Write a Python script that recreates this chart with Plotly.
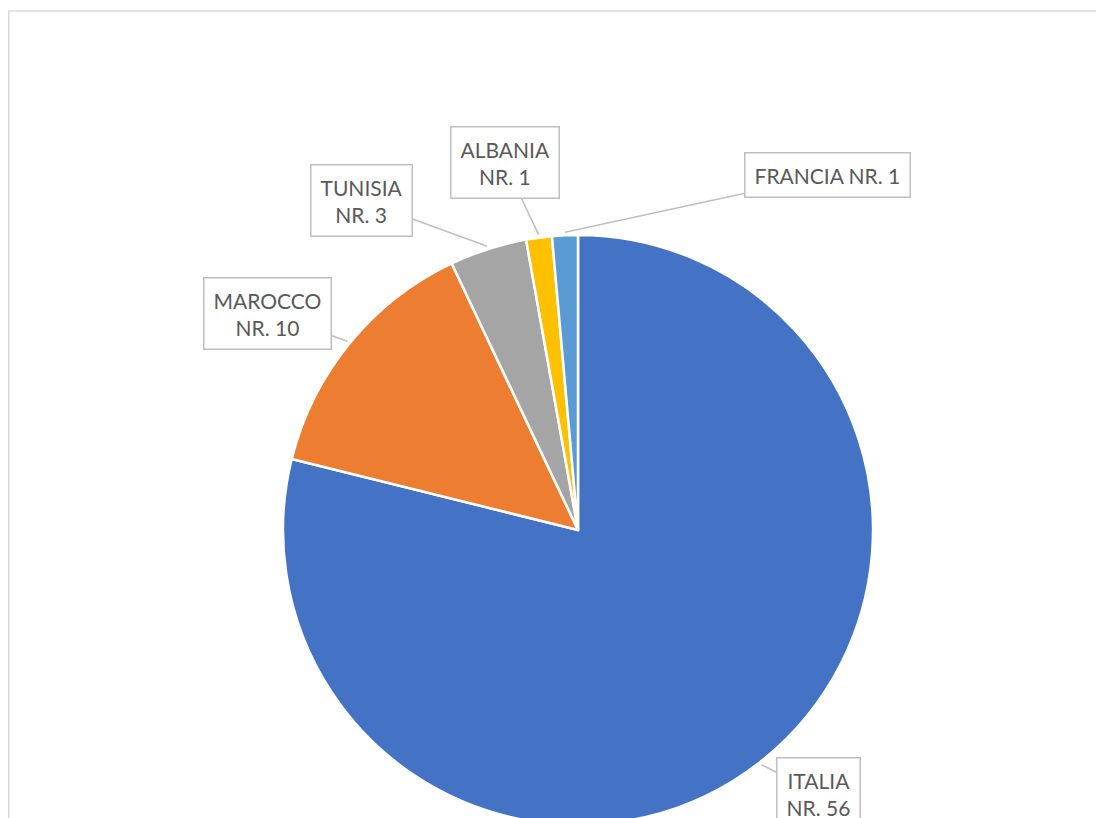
import math

import plotly.graph_objects as go

# Dati: nazionalita (numero di persone)
paesi = ["ITALIA", "MAROCCO", "TUNISIA", "ALBANIA", "FRANCIA"]
numeri = [56, 10, 3, 1, 1]
etichette = ["ITALIA<br>NR. 56", "MAROCCO<br>NR. 10", "TUNISIA<br>NR. 3",
             "ALBANIA<br>NR. 1", "FRANCIA NR. 1"]
colori = ["#4472C4", "#ED7D31", "#A5A5A5", "#FFC000", "#5B9BD5"]

# la figura e piu alta della finestra: il fondo della torta resta tagliato
LARGHEZZA, ALTEZZA = 1104, 850
RAGGIO_PX = 295
CENTRO_PX = (570, 522)

# spostamento (px) del riquadro etichetta rispetto al bordo della fetta
spostamenti = {
    "ITALIA": (57, 29),
    "MAROCCO": (-80, -28),
    "TUNISIA": (-126, -46),
    "ALBANIA": (-34, -72),
    "FRANCIA": (263, -57),
}

dom_x = [(CENTRO_PX[0] - RAGGIO_PX) / LARGHEZZA, (CENTRO_PX[0] + RAGGIO_PX) / LARGHEZZA]
dom_y = [1 - (CENTRO_PX[1] + RAGGIO_PX) / ALTEZZA, 1 - (CENTRO_PX[1] - RAGGIO_PX) / ALTEZZA]

fig = go.Figure(
    go.Pie(
        labels=paesi,
        values=numeri,
        sort=False,
        direction="clockwise",
        rotation=0,
        marker={"colors": colori, "line": {"color": "white", "width": 2.5}},
        textinfo="none",
        hoverinfo="label+value",
        domain={"x": dom_x, "y": dom_y},
        showlegend=False,
    )
)

# etichette a riquadro con linea di richiamo, ancorate al centro di ogni fetta
totale = sum(numeri)
cx = (dom_x[0] + dom_x[1]) / 2
cy = (dom_y[0] + dom_y[1]) / 2
cumulato = 0
for paese, valore, testo in zip(paesi, numeri, etichette):
    angolo = 2 * math.pi * (cumulato + valore / 2) / totale
    cumulato += valore
    px_x = math.sin(angolo) * (RAGGIO_PX + 3) / LARGHEZZA
    px_y = math.cos(angolo) * (RAGGIO_PX + 3) / ALTEZZA
    dx, dy = spostamenti[paese]
    fig.add_annotation(
        x=cx + px_x,
        y=cy + px_y,
        xref="paper",
        yref="paper",
        text=testo,
        showarrow=True,
        arrowhead=0,
        arrowwidth=1.5,
        arrowcolor="#BFBFBF",
        ax=dx,
        ay=dy,
        standoff=0,
        bordercolor="#BFBFBF",
        borderwidth=1.5,
        borderpad=9,
        bgcolor="white",
        font={"family": "Lato, Noto Sans, sans-serif", "size": 21, "color": "#595959"},
        align="center",
    )

# cornice dell'area grafico
fig.add_shape(
    type="rect",
    xref="paper",
    yref="paper",
    x0=0.75 / LARGHEZZA,
    x1=1.05,
    y0=-0.05,
    y1=1 - 3 / ALTEZZA,
    line={"color": "#D9D9D9", "width": 1.5},
    fillcolor="rgba(0,0,0,0)",
    layer="below",
)

fig.update_layout(
    width=LARGHEZZA,
    height=ALTEZZA,
    margin={"l": 0, "r": 0, "t": 0, "b": 0},
    paper_bgcolor="white",
    plot_bgcolor="white",
)

fig.write_html("out.html")
